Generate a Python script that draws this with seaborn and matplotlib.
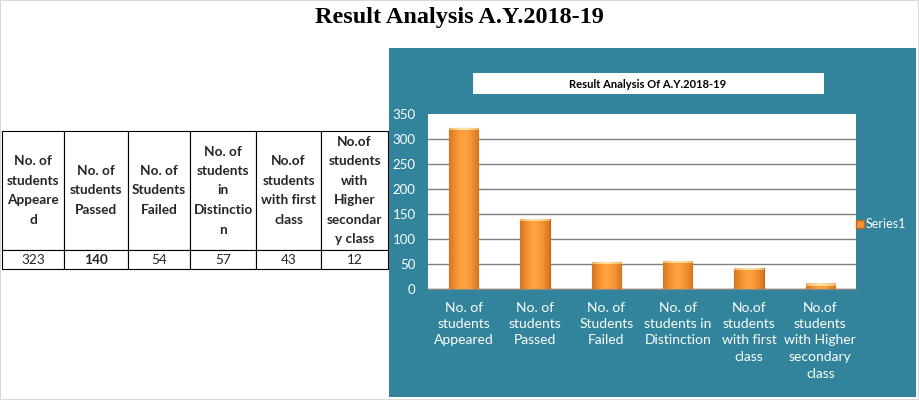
import numpy as np
import pandas as pd
import seaborn as sns
import matplotlib.pyplot as plt
from matplotlib.patches import Rectangle, Patch

# data
categories = ["No. of\nstudents\nAppeared", "No. of\nstudents\nPassed", "No. of\nStudents\nFailed",
              "No. of\nstudents in\nDistinction", "No.of\nstudents\nwith first\nclass",
              "No.of\nstudents\nwith Higher\nsecondary\nclass"]
counts = [323, 140, 54, 57, 43, 12]
table_headers = ["No. of\nstudents\nAppeare\nd", "No. of\nstudents\nPassed", "No. of\nStudents\nFailed",
                 "No. of\nstudents\nin\nDistinctio\nn", "No.of\nstudents\nwith first\nclass",
                 "No.of\nstudents\nwith\nHigher\nsecondar\ny class"]
col_widths = [62, 64, 62, 66, 65, 67]
yticks = [0, 50, 100, 150, 200, 250, 300, 350]

TEAL = "#31849B"
ORANGE = "#F7922E"
EDGE = "#B8652A"

sns.set_style("white")
plt.rcParams["font.family"] = ["Lato", "DejaVu Sans"]

fig = plt.figure(figsize=(9.19, 4.0), dpi=100)
W, H = 919, 400

def fx(px):
    return px / W

def fy(px):
    return 1 - px / H

# outer light border
fig.patches.append(Rectangle((0, 0), 1, 1, transform=fig.transFigure, fill=False,
                             edgecolor="#d9d9d9", lw=1.5, zorder=0))

fig.text(0.5, fy(18), "Result Analysis A.Y.2018-19", ha="center", va="center",
         fontsize=17.5, fontweight="bold", family="Liberation Serif", color="black")

# teal chart panel
fig.patches.append(Rectangle((fx(389), fy(397)), fx(916 - 389), (397 - 48) / H,
                             transform=fig.transFigure, facecolor=TEAL, edgecolor="none", zorder=0.5))
fig.patches.append(Rectangle((fx(473), fy(94)), fx(824 - 473), 21 / H,
                             transform=fig.transFigure, facecolor="white", edgecolor="none", zorder=1))
fig.text(fx(648), fy(84), "Result Analysis Of A.Y.2018-19", ha="center", va="center",
         fontsize=8, fontweight="bold", color="black", zorder=3)

# bar chart
ax = fig.add_axes([fx(428), fy(289), fx(856 - 428), (289 - 114) / H])
ax.set_zorder(2)
df = pd.DataFrame({"category": categories, "count": counts})
sns.barplot(data=df, x="category", y="count", color=ORANGE, width=0.41,
            edgecolor=EDGE, linewidth=0.8, ax=ax, zorder=3)

# shaded cylinder look and light top cap, clipped to each bar
grad = np.linspace(-1, 1, 64)
shade = 1 - np.abs(grad) ** 1.6
cmap = sns.blend_palette(["#D9741C", "#FFA23F"], as_cmap=True)
cap_cmap = sns.blend_palette(["#F2B060", "#FFE3A6"], as_cmap=True)
for p in list(ax.patches):
    x0, y0 = p.get_x(), p.get_y()
    w, h = p.get_width(), p.get_height()
    im = ax.imshow(shade[np.newaxis, :], cmap=cmap, aspect="auto", zorder=3.5,
                   extent=[x0, x0 + w, y0, y0 + h])
    im.set_clip_path(p)
    cap = min(5, h * 0.5)
    im2 = ax.imshow(shade[np.newaxis, :], cmap=cap_cmap, aspect="auto", zorder=3.6,
                    extent=[x0, x0 + w, y0 + h - cap, y0 + h])
    im2.set_clip_path(p)
ax.set_xlim(-0.5, len(categories) - 0.5)
ax.set_ylim(0, 350)
ax.set_yticks(yticks)
ax.set_facecolor("white")
ax.set_xlabel("")
ax.set_ylabel("")
ax.yaxis.grid(True, color="#7f7f7f", lw=1)
ax.get_ygridlines()[-1].set_visible(False)
ax.set_axisbelow(True)
for side in ["top", "right", "left"]:
    ax.spines[side].set_visible(False)
ax.spines["bottom"].set_color("#868686")
ax.spines["bottom"].set_linewidth(1)
ax.tick_params(axis="y", colors="#9fb4bb", length=4, width=1, pad=5, labelsize=9.5,
               labelcolor="white")
ax.tick_params(axis="x", length=0, pad=9, labelsize=10, labelcolor="white")
for lbl in ax.get_xticklabels():
    lbl.set_linespacing(1.45)
ax.set_xticks(np.arange(-0.5, len(categories)), minor=True)
ax.tick_params(axis="x", which="minor", length=4, color="#868686", width=1)

ax.legend(handles=[Patch(facecolor=ORANGE, edgecolor=EDGE, label="Series1")],
          loc="center left", bbox_to_anchor=(fx(856), fy(224)), bbox_transform=fig.transFigure,
          frameon=False, labelcolor="white", fontsize=9, handlelength=0.6, handleheight=0.6,
          handletextpad=0.2, borderaxespad=0, borderpad=0)

# data table on the left
tax = fig.add_axes([fx(2), fy(269), fx(sum(col_widths)), (269 - 131) / H])
tax.axis("off")
tbl = tax.table(cellText=[[str(v) for v in counts]], colLabels=table_headers,
                cellLoc="center", bbox=[0, 0, 1, 1])
tbl.auto_set_font_size(False)
tbl.set_fontsize(9.8)
for (r, c), cell in tbl.get_celld().items():
    cell.set_width(col_widths[c])
    cell.set_height(119 if r == 0 else 19)
    cell.set_edgecolor("black")
    cell.set_linewidth(0.8)
    txt = cell.get_text()
    if r == 0:
        txt.set_fontweight("bold")
        txt.set_linespacing(1.75)
    elif counts[c] == 140:
        txt.set_fontweight("bold")

fig.savefig("out.png", dpi=100)
